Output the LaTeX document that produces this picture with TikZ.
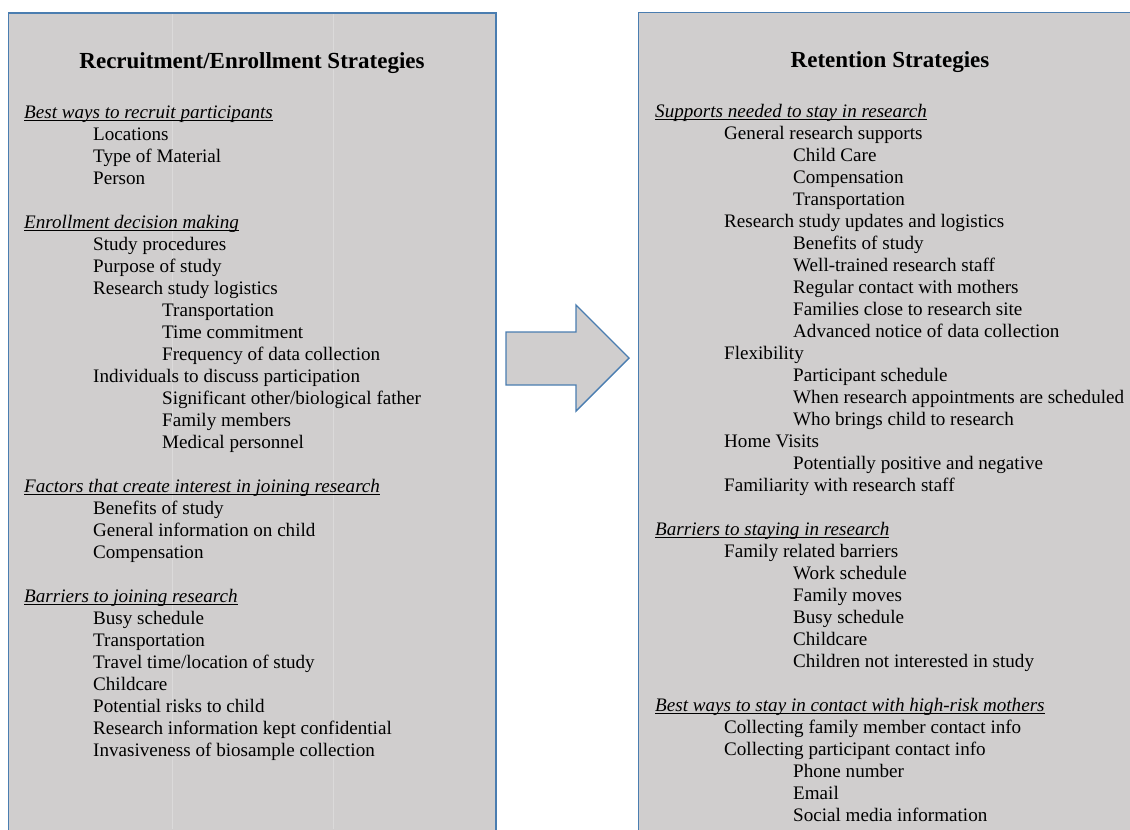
\documentclass[tikz,border=0pt]{standalone}
\usepackage{fontspec}
\setmainfont{Liberation Serif}
\definecolor{boxfill}{HTML}{D0CECE}
\definecolor{boxline}{HTML}{4A7DB0}
\newsavebox\hdbox
\newcommand\hdtxt[1]{\sbox\hdbox{\textit{#1}}\rlap{\rule[-2.8pt]{\wd\hdbox}{0.9pt}}\usebox\hdbox}
\tikzset{
  panel/.style={fill=boxfill, draw=boxline, line width=1.4pt},
  grid/.style={draw=white, opacity=0.25, line width=0.8pt},
  txt/.style={inner sep=0pt, anchor=base west, font=\fontsize{19.1}{22}\selectfont, text=black},
  ttl/.style={inner sep=0pt, anchor=base, font=\fontsize{23}{27}\selectfont\bfseries, text=black},
  h/.style={xshift=24pt},
  a/.style={xshift=93pt},
  b/.style={xshift=162pt},
}
\begin{document}
\begin{tikzpicture}[x=1pt,y=-1pt]
\useasboundingbox (0,0) rectangle (1130,830);
\begin{scope}
\clip (0,0) rectangle (1130,830);
\draw[panel] (8.5,13) rectangle (496,845);
\draw[panel] (638.5,12.5) rectangle (1150,845);
\end{scope}
\draw[grid] (172,14) -- (172,829);
\draw[grid] (333,14) -- (333,829);
\draw[panel, line join=miter] (506,332) -- (576,332) -- (576,305) -- (629,358) -- (576,411) -- (576,385) -- (506,385) -- cycle;
\node[ttl] (ltitle) at (252,68) {Recruitment/Enrollment Strategies};
\node[ttl] (rtitle) at (890,67) {Retention Strategies};
\foreach \i/\k/\t in {
 0/h/{\hdtxt{Best ways to recruit participants}},
 1/a/Locations, 2/a/Type of Material, 3/a/Person,
 5/h/{\hdtxt{Enrollment decision making}},
 6/a/Study procedures, 7/a/Purpose of study, 8/a/Research study logistics,
 9/b/Transportation, 10/b/Time commitment, 11/b/Frequency of data collection,
 12/a/Individuals to discuss participation,
 13/b/{Significant other/biological father}, 14/b/Family members, 15/b/Medical personnel,
 17/h/{\hdtxt{Factors that create interest in joining research}},
 18/a/Benefits of study, 19/a/General information on child, 20/a/Compensation,
 22/h/{\hdtxt{Barriers to joining research}},
 23/a/Busy schedule, 24/a/Transportation, 25/a/{Travel time/location of study},
 26/a/Childcare, 27/a/Potential risks to child, 28/a/Research information kept confidential,
 29/a/Invasiveness of biosample collection}
{ \node[txt, \k] (L\i) at (0,118+22*\i) {\t}; }
\foreach \i/\k/\t in {
 0/h/{\hdtxt{Supports needed to stay in research}},
 1/a/General research supports, 2/b/Child Care, 3/b/Compensation, 4/b/Transportation,
 5/a/Research study updates and logistics,
 6/b/Benefits of study, 7/b/Well-trained research staff, 8/b/Regular contact with mothers,
 9/b/Families close to research site, 10/b/Advanced notice of data collection,
 11/a/Flexibility, 12/b/Participant schedule, 13/b/When research appointments are scheduled,
 14/b/Who brings child to research,
 15/a/Home Visits, 16/b/Potentially positive and negative,
 17/a/Familiarity with research staff,
 19/h/{\hdtxt{Barriers to staying in research}},
 20/a/Family related barriers, 21/b/Work schedule, 22/b/Family moves, 23/b/Busy schedule,
 24/b/Childcare, 25/b/Children not interested in study,
 27/h/{\hdtxt{Best ways to stay in contact with high-risk mothers}},
 28/a/Collecting family member contact info, 29/a/Collecting participant contact info,
 30/b/Phone number, 31/b/Email, 32/b/Social media information}
{ \node[txt, \k, xshift=631pt] (R\i) at (0,117+22*\i) {\t}; }
\end{tikzpicture}
\end{document}
